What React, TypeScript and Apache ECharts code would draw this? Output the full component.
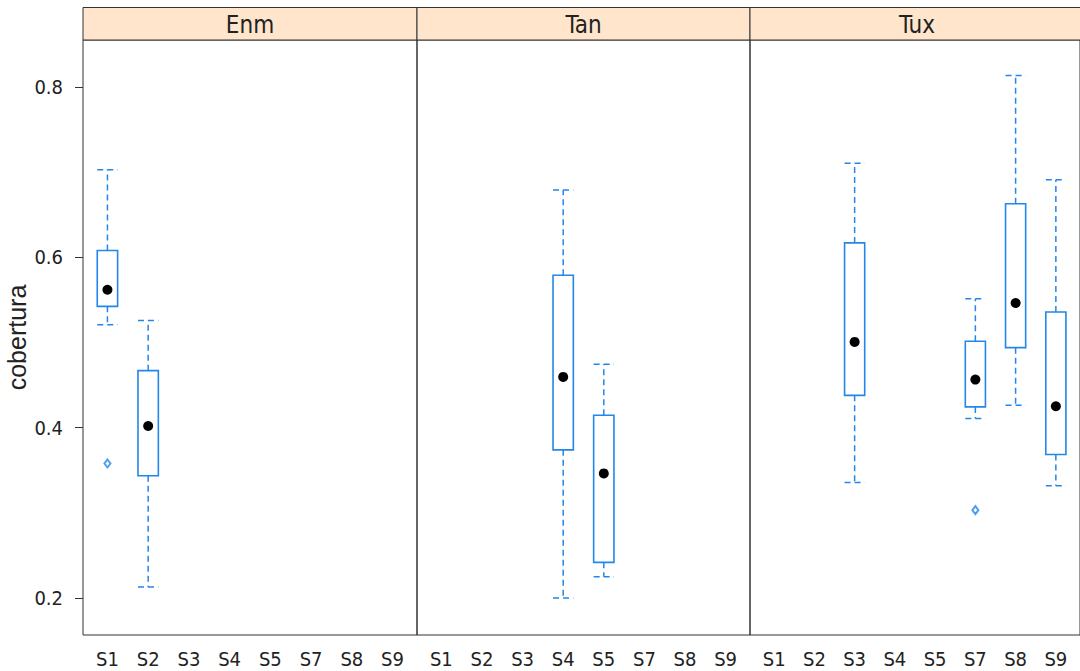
import React, { useEffect, useRef } from "react";
import * as echarts from "echarts";

// ---- data ----
const categories = ["S1", "S2", "S3", "S4", "S5", "S7", "S8", "S9"];
const panels = ["Enm", "Tan", "Tux"];
const yTicks = [0.2, 0.4, 0.6, 0.8];

// [category, lower whisker, Q1, median, Q3, upper whisker]
const enmStats: [string, number, number, number, number, number][] = [
  ["S1", 0.521, 0.5425, 0.562, 0.608, 0.703],
  ["S2", 0.213, 0.3435, 0.402, 0.467, 0.526],
];
const tanStats: [string, number, number, number, number, number][] = [
  ["S4", 0.2, 0.374, 0.4596, 0.579, 0.679],
  ["S5", 0.225, 0.2419, 0.3463, 0.4147, 0.4745],
];
const tuxStats: [string, number, number, number, number, number][] = [
  ["S3", 0.3357, 0.438, 0.5007, 0.617, 0.7106],
  ["S7", 0.4108, 0.4244, 0.4565, 0.5015, 0.5515],
  ["S8", 0.4264, 0.494, 0.5464, 0.663, 0.8135],
  ["S9", 0.3317, 0.3686, 0.4252, 0.5358, 0.691],
];
// [category, value]
const enmOutliers: [string, number][] = [["S1", 0.358]];
const tanOutliers: [string, number][] = [];
const tuxOutliers: [string, number][] = [["S7", 0.3032]];

const statsByPanel = [enmStats, tanStats, tuxStats];
const outliersByPanel = [enmOutliers, tanOutliers, tuxOutliers];

// ---- style / layout ----
const BLUE = "#2287e8";
const FRAME = "#333333";
const NARROW = "'Liberation Sans Narrow', 'DejaVu Sans Condensed', 'Liberation Sans', sans-serif";
const panelLeft = [83, 417, 750];
const panelWidth = [334, 333, 334];
const stripTop = 7.5;
const gridTop = 40;
const gridBottom = 36;
const Y_MIN = 0.1566;
const Y_MAX = 0.8552;

const catIdx = (c: string) => categories.indexOf(c) + 1;

export default function App() {
  const ref = useRef<HTMLDivElement>(null);

  useEffect(() => {
    if (!ref.current) return;
    const chart = echarts.init(ref.current, null, { renderer: "svg" });

    const grids = panels.map((_, i) => ({
      left: panelLeft[i],
      width: panelWidth[i],
      top: gridTop,
      bottom: gridBottom,
      show: true,
      borderColor: FRAME,
      borderWidth: 1,
      backgroundColor: "transparent",
    }));

    const xAxes = panels.map((_, i) => ({
      type: "value",
      gridIndex: i,
      min: 0.4,
      max: 8.6,
      axisLine: { show: false },
      axisTick: { show: false },
      splitLine: { show: false },
      axisLabel: {
        customValues: categories.map((_, k) => k + 1),
        formatter: (v: number) => categories[Math.round(v) - 1] ?? "",
        fontFamily: NARROW,
        fontSize: 20,
        color: "#222",
        margin: 14,
      },
    }));

    const yAxes = panels.map((_, i) => ({
      type: "value",
      gridIndex: i,
      min: Y_MIN,
      max: Y_MAX,
      splitLine: { show: false },
      axisLine: { show: false },
      name: i === 0 ? "cobertura" : "",
      nameLocation: "middle",
      nameGap: 54,
      nameTextStyle: {
        fontFamily: "'Liberation Sans', Arial, sans-serif",
        fontSize: 25,
        color: "#222",
      },
      axisTick: {
        show: i === 0,
        customValues: yTicks,
        length: 8,
        lineStyle: { color: FRAME, width: 1 },
      },
      axisLabel: {
        show: i === 0,
        customValues: yTicks,
        formatter: (v: number) => v.toFixed(1),
        fontFamily: NARROW,
        fontSize: 20,
        color: "#222",
        margin: 20,
      },
    }));

    const dash = [6, 4];
    const boxSeries = panels.map((_, i) => ({
      type: "custom",
      xAxisIndex: i,
      yAxisIndex: i,
      clip: false,
      data: statsByPanel[i].map((s) => [catIdx(s[0]), s[1], s[2], s[3], s[4], s[5]]),
      encode: { x: 0, y: [1, 2, 3, 4, 5] },
      renderItem: (_p: any, api: any) => {
        const x = api.value(0);
        const pts = [1, 2, 3, 4, 5].map((k) => api.coord([x, api.value(k)]));
        const cx = pts[0][0];
        const half = api.size([0.5, 0])[0] / 2;
        const lo = pts[0][1], q1 = pts[1][1], med = pts[2][1], q3 = pts[3][1], hi = pts[4][1];
        const dashed = { stroke: BLUE, lineWidth: 1.5, lineDash: dash, fill: null };
        return {
          type: "group",
          children: [
            { type: "line", shape: { x1: cx, y1: q3, x2: cx, y2: hi }, style: dashed },
            { type: "line", shape: { x1: cx, y1: q1, x2: cx, y2: lo }, style: dashed },
            { type: "line", shape: { x1: cx - half, y1: hi, x2: cx + half, y2: hi }, style: dashed },
            { type: "line", shape: { x1: cx - half, y1: lo, x2: cx + half, y2: lo }, style: dashed },
            {
              type: "rect",
              shape: { x: cx - half, y: q3, width: 2 * half, height: q1 - q3 },
              style: { fill: "#ffffff", stroke: BLUE, lineWidth: 1.6 },
            },
            { type: "circle", shape: { cx, cy: med, r: 5 }, style: { fill: "#000000" } },
          ],
        };
      },
    }));

    const outlierSeries = panels.map((_, i) => ({
      type: "scatter",
      xAxisIndex: i,
      yAxisIndex: i,
      symbol: "emptyDiamond",
      symbolSize: [6, 8],
      itemStyle: { color: BLUE, borderWidth: 1.3 },
      data: outliersByPanel[i].map((o) => [catIdx(o[0]), o[1]]),
    }));

    const graphics: any[] = [];
    panels.forEach((name, i) => {
      graphics.push({
        type: "rect",
        shape: { x: panelLeft[i], y: stripTop, width: panelWidth[i], height: gridTop - stripTop },
        style: { fill: "#ffe5cc", stroke: FRAME, lineWidth: 1 },
        z: 10,
      });
      graphics.push({
        type: "text",
        x: panelLeft[i] + panelWidth[i] / 2,
        y: (stripTop + gridTop) / 2 + 1,
        style: {
          text: name,
          fontFamily: NARROW,
          fontSize: 24,
          fill: "#222",
          textAlign: "center",
          textVerticalAlign: "middle",
        },
        z: 11,
      });
    });

    chart.setOption({
      animation: false,
      backgroundColor: "#ffffff",
      grid: grids,
      xAxis: xAxes,
      yAxis: yAxes,
      series: [...boxSeries, ...outlierSeries],
      graphic: graphics,
    });

    return () => chart.dispose();
  }, []);

  return (
    <div
      ref={ref}
      style={{ position: "absolute", left: 0, top: 0, width: 1080, height: 671 }}
    />
  );
}
